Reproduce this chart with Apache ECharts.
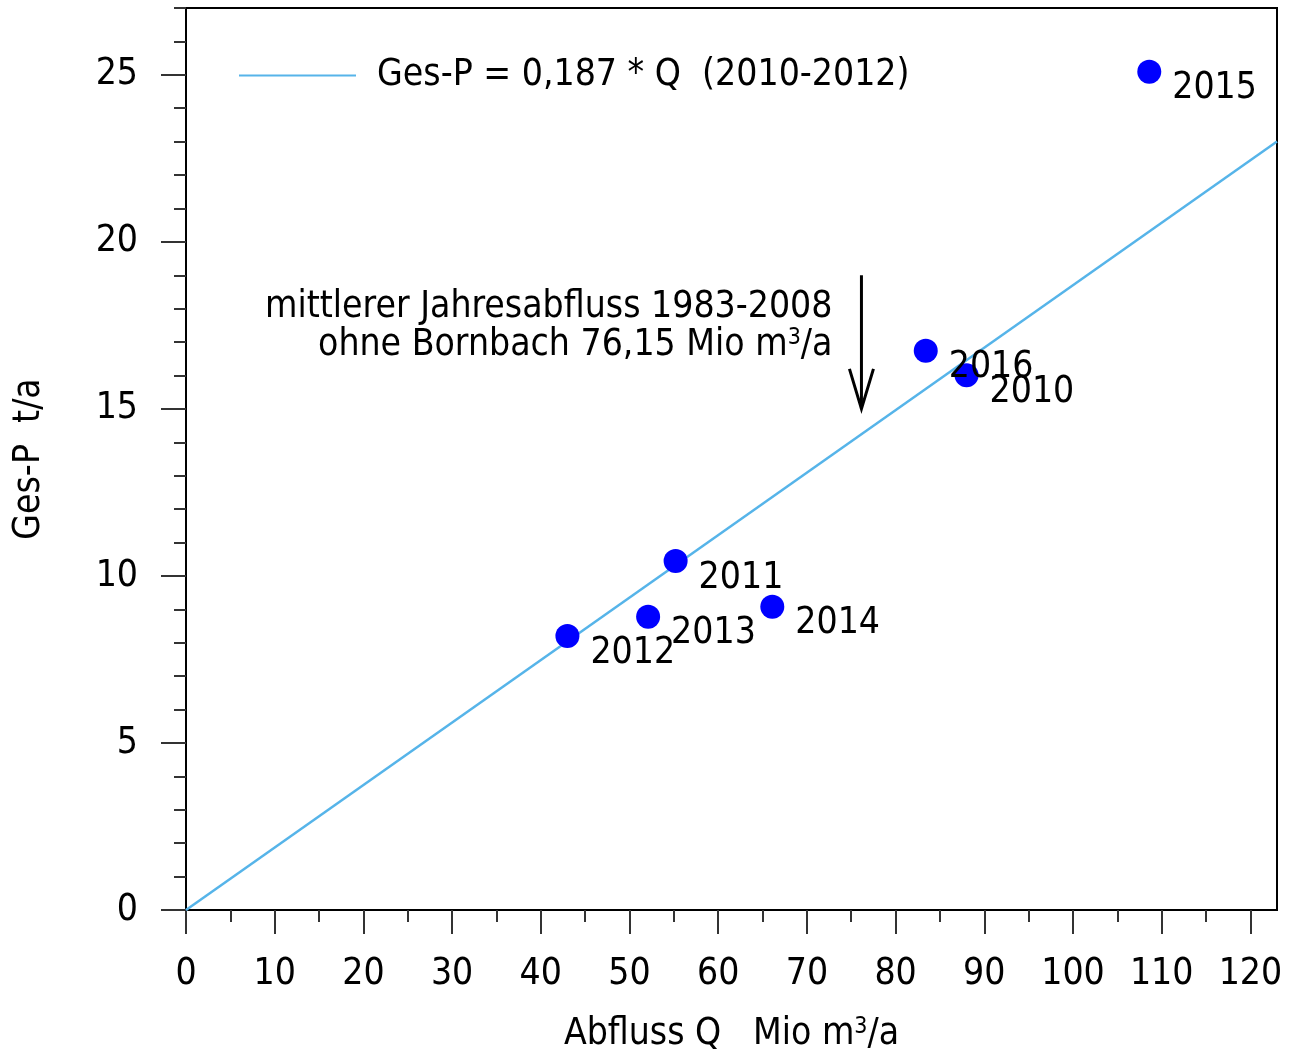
<!DOCTYPE html>
<html lang="de">
<head>
<meta charset="UTF-8">
<title>Ges-P / Abfluss</title>
<script src="https://cdn.jsdelivr.net/npm/echarts@6/dist/echarts.min.js"></script>
<style>
  * { margin: 0; padding: 0; }
  html, body { background: #fff; }
  #main { width: 1290px; height: 1052px; }
</style>
</head>
<body>
<div id="main"></div>
<script>
// Messwerte je Jahr
const years = ['2010', '2011', '2012', '2013', '2014', '2015', '2016'];
const abfluss = [88.0, 55.2, 43.0, 52.1, 66.1, 108.6, 83.4];   // Mio m3/a
const gesP = [16.01, 10.45, 8.20, 8.78, 9.08, 25.09, 16.74];     // t/a

// Regressionsgerade Ges-P = 0,187 * Q (2010-2012)
const slope = 0.187;
const lineQ = [0, 123];

// mittlerer Jahresabfluss 1983-2008 (Pfeil)
const meanQ = 76.15;
const arrowY = [19, 15];

// Achsen
const xMajor = [0, 10, 20, 30, 40, 50, 60, 70, 80, 90, 100, 110, 120];
const xMinor = [0, 5, 10, 15, 20, 25, 30, 35, 40, 45, 50, 55, 60, 65, 70, 75, 80, 85, 90, 95, 100, 105, 110, 115, 120];
const yMajor = [0, 5, 10, 15, 20, 25];
const yMinor = [0, 1, 2, 3, 4, 5, 6, 7, 8, 9, 10, 11, 12, 13, 14, 15, 16, 17, 18, 19, 20, 21, 22, 23, 24, 25, 26, 27];

const FONT = "'DejaVu Sans Condensed', 'DejaVu Sans', sans-serif";
const FS = 37;
const lineName = 'Ges-P = 0,187 * Q  (2010-2012)';

const chart = echarts.init(document.getElementById('main'));

// hochgestellte 3 in m³
const supStyle = { fontFamily: FONT, fontSize: 23, lineHeight: 16, verticalAlign: 'top', color: '#000' };

const option = {
  animation: false,
  backgroundColor: '#fff',
  textStyle: { fontFamily: FONT, color: '#000' },
  grid: {
    left: 186, right: 13, top: 8, bottom: 142,
    show: true, borderColor: '#000', borderWidth: 2, backgroundColor: 'transparent',
    containLabel: false, outerBoundsMode: 'none'
  },
  legend: {
    left: 234, top: 52,
    data: [{ name: lineName, icon: 'rect' }],
    itemWidth: 117, itemHeight: 2,
    itemStyle: { color: '#56b4e9' },
    textStyle: { fontFamily: FONT, fontSize: FS, color: '#000', padding: [0, 0, 0, 16] }
  },
  xAxis: [{
    type: 'value', min: 0, max: 123,
    name: 'Abfluss Q   Mio m{sup|3}/a', nameLocation: 'middle', nameGap: 106,
    nameTextStyle: { fontFamily: FONT, fontSize: FS, color: '#000', rich: { sup: supStyle } },
    axisLine: { show: true, onZero: false, lineStyle: { color: '#000', width: 2 } },
    axisTick: { show: true, customValues: xMajor, length: 24, lineStyle: { color: '#333', width: 2 } },
    axisLabel: { customValues: xMajor, margin: 46, fontFamily: FONT, fontSize: FS, color: '#000' },
    splitLine: { show: false }
  }, {
    type: 'value', min: 0, max: 123, position: 'bottom',
    axisLine: { show: false },
    axisTick: { show: true, customValues: xMinor, length: 12, lineStyle: { color: '#333', width: 2 } },
    axisLabel: { show: false },
    splitLine: { show: false }
  }],
  yAxis: [{
    type: 'value', min: 0, max: 27,
    name: 'Ges-P  t/a', nameLocation: 'middle', nameGap: 138,
    nameTextStyle: { fontFamily: FONT, fontSize: FS, color: '#000' },
    axisLine: { show: true, onZero: false, lineStyle: { color: '#000', width: 2 } },
    axisTick: { show: true, customValues: yMajor, length: 25, lineStyle: { color: '#333', width: 2 } },
    axisLabel: { customValues: yMajor, margin: 48, fontFamily: FONT, fontSize: FS, color: '#000' },
    splitLine: { show: false }
  }, {
    type: 'value', min: 0, max: 27, position: 'left',
    axisLine: { show: false },
    axisTick: { show: true, customValues: yMinor, length: 12, lineStyle: { color: '#333', width: 2 } },
    axisLabel: { show: false },
    splitLine: { show: false }
  }],
  series: [{
    name: lineName,
    type: 'line',
    symbol: 'none',
    silent: true,
    lineStyle: { color: '#56b4e9', width: 2.5 },
    itemStyle: { color: '#56b4e9' },
    data: lineQ.map(q => [q, slope * q]),
    z: 2
  }, {
    name: 'Jahre',
    type: 'scatter',
    symbolSize: 24,
    itemStyle: { color: '#0000ff', opacity: 1 },
    label: {
      show: true, position: 'right', distance: 11, offset: [0, 17],
      formatter: p => p.data[2],
      fontFamily: FONT, fontSize: FS, color: '#000'
    },
    data: years.map((y, i) => [abfluss[i], gesP[i], y]),
    z: 3
  }, {
    name: 'Mittel',
    type: 'custom',
    silent: true,
    z: 4,
    data: [[meanQ, arrowY[0], arrowY[1]]],
    renderItem: function (params, api) {
      const top = api.coord([api.value(0), api.value(1)]);
      const tip = api.coord([api.value(0), api.value(2)]);
      return {
        type: 'group',
        children: [{
          type: 'line',
          shape: { x1: top[0], y1: top[1], x2: tip[0], y2: tip[1] },
          style: { stroke: '#000', lineWidth: 3 }
        }, {
          type: 'polyline',
          shape: { points: [[tip[0] - 12, tip[1] - 40], [tip[0], tip[1]], [tip[0] + 12, tip[1] - 40]] },
          style: { stroke: '#000', lineWidth: 3, fill: null }
        }, {
          type: 'text',
          x: top[0] - 29,
          y: top[1] + 51,
          style: {
            text: 'mittlerer Jahresabfluss 1983-2008\nohne Bornbach 76,15 Mio m{sup|3}/a',
            fontFamily: FONT, fontSize: FS, lineHeight: 38,
            fill: '#000', align: 'right', verticalAlign: 'middle',
            rich: { sup: { fontFamily: FONT, fontSize: 23, lineHeight: 16, verticalAlign: 'top', fill: '#000' } }
          }
        }]
      };
    }
  }]
};

chart.setOption(option);
</script>
</body>
</html>
